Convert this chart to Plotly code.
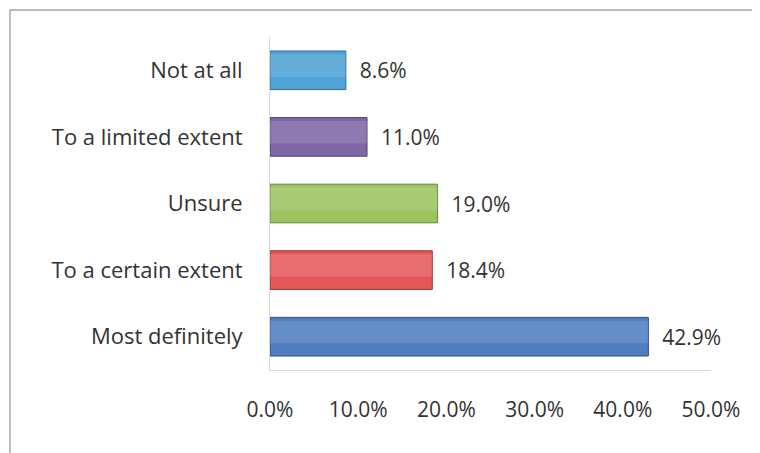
import plotly.graph_objects as go

categories = ["Most definitely", "To a certain extent", "Unsure", "To a limited extent", "Not at all"]
values = [42.9, 18.4, 19.0, 11.0, 8.6]
colors = ["#4F7DC0", "#E5585A", "#9DC45F", "#7F66A6", "#4FA3D6"]
edge_colors = ["#2F4F80", "#9A3432", "#66853A", "#553F72", "#2F6E94"]
tick_vals = [0, 10, 20, 30, 40, 50]
tick_text = ["0.0%", "10.0%", "20.0%", "30.0%", "40.0%", "50.0%"]

FONT = "Open Sans"
TXT = "#333333"

fig = go.Figure()
fig.add_trace(go.Bar(
    y=categories, x=values, orientation="h",
    marker=dict(color=colors, line=dict(color=edge_colors, width=1)),
    width=0.58,
    text=[f"{v:.1f}%" for v in values],
    texttemplate="  %{text}",
    textposition="outside",
    cliponaxis=False,
    textfont=dict(family=FONT, size=21, color=TXT),
    hoverinfo="skip",
))
# soft highlight for the glossy look
fig.add_trace(go.Bar(
    y=categories, x=values, orientation="h",
    marker=dict(color="rgba(255,255,255,0.13)", line=dict(width=0)),
    width=0.34, offset=-0.1,
    hoverinfo="skip",
))

fig.update_layout(
    width=760, height=453,
    margin=dict(l=262, r=57, t=29, b=91),
    paper_bgcolor="white", plot_bgcolor="white",
    showlegend=False,
    barmode="overlay",
    font=dict(family=FONT, color=TXT),
    xaxis=dict(range=[0, 50], tickvals=tick_vals, ticktext=tick_text,
               showgrid=False, zeroline=False, showline=True, linecolor="#D9D9D9",
               linewidth=1, ticks="", ticklabelstandoff=21,
               tickfont=dict(family=FONT, size=21, color=TXT)),
    yaxis=dict(showgrid=False, zeroline=False, showline=True, linecolor="#D9D9D9",
               ticks="", ticklabelstandoff=22,
               tickfont=dict(family=FONT, size=22, color=TXT)),
    shapes=[dict(type="rect", xref="paper", yref="paper",
                 x0=(2 - 262) / 441, x1=1.3, y0=-0.5, y1=(362 - 2) / 333,
                 line=dict(color="#A6A6A6", width=1.5), fillcolor="rgba(0,0,0,0)", layer="below")],
)

fig.write_html("out.html")
